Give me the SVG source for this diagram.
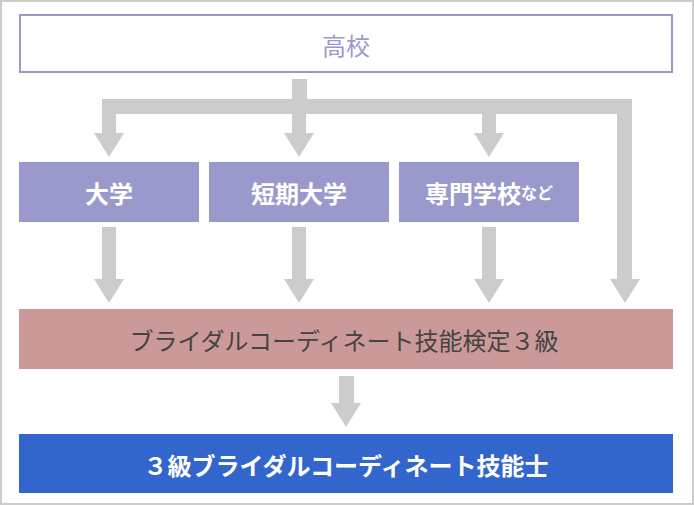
<svg xmlns="http://www.w3.org/2000/svg" width="694" height="505" viewBox="0 0 694 505">
  <style>
    text { font-family: "Noto Sans CJK JP", "Noto Sans", sans-serif; font-size: 24px; text-anchor: middle; dominant-baseline: central; }
    .purple { fill: #9999cc; }
    .w { fill: #ffffff; font-weight: bold; }
    .arrow { fill: #cccccc; }
  </style>
  <rect x="1" y="1" width="692" height="503" fill="#ffffff" stroke="#cccccc" stroke-width="2"/>
  <g id="connectors" class="arrow">
    <!-- from 高校 -->
    <rect x="292" y="79" width="15" height="35"/>
    <rect x="102" y="99" width="530" height="15"/>
    <rect x="102" y="114" width="14" height="20"/>
    <polygon points="94,133 124,133 109,157"/>
    <rect x="292" y="114" width="14" height="20"/>
    <polygon points="284,133 314,133 299,157"/>
    <rect x="482" y="114" width="14" height="20"/>
    <polygon points="474,133 504,133 489,157"/>
    <rect x="617" y="99" width="15" height="181"/>
    <polygon points="610,279 640,279 625,303"/>
    <!-- to 検定 -->
    <rect x="102" y="227" width="14" height="53"/>
    <polygon points="94,279 124,279 109,303"/>
    <rect x="292" y="227" width="14" height="53"/>
    <polygon points="284,279 314,279 299,303"/>
    <rect x="482" y="227" width="14" height="53"/>
    <polygon points="474,279 504,279 489,303"/>
    <!-- to 技能士 -->
    <rect x="339" y="376" width="15" height="28"/>
    <polygon points="331,403 361,403 346,427"/>
  </g>
  <g id="node-koukou">
    <rect x="20" y="15" width="652" height="57" fill="#ffffff" stroke="#9999cc" stroke-width="2"/>
    <text x="346" y="44" class="purple">高校</text>
  </g>
  <g id="node-daigaku">
    <rect x="19" y="162" width="180" height="60" fill="#9999cc"/>
    <text x="109" y="192" class="w">大学</text>
  </g>
  <g id="node-tanki">
    <rect x="209" y="162" width="180" height="60" fill="#9999cc"/>
    <text x="299" y="192" class="w">短期大学</text>
  </g>
  <g id="node-senmon">
    <rect x="399" y="162" width="180" height="60" fill="#9999cc"/>
    <text x="489" y="192" class="w">専門学校<tspan font-size="16">など</tspan></text>
  </g>
  <g id="node-kentei">
    <rect x="19" y="309" width="654" height="60" fill="#cc9999"/>
    <text x="344" y="339" fill="#444444">ブライダルコーディネート技能検定３級</text>
  </g>
  <g id="node-ginoushi">
    <rect x="19" y="434" width="654" height="59" fill="#3366cc"/>
    <text x="346" y="464" class="w">３級ブライダルコーディネート技能士</text>
  </g>
</svg>
